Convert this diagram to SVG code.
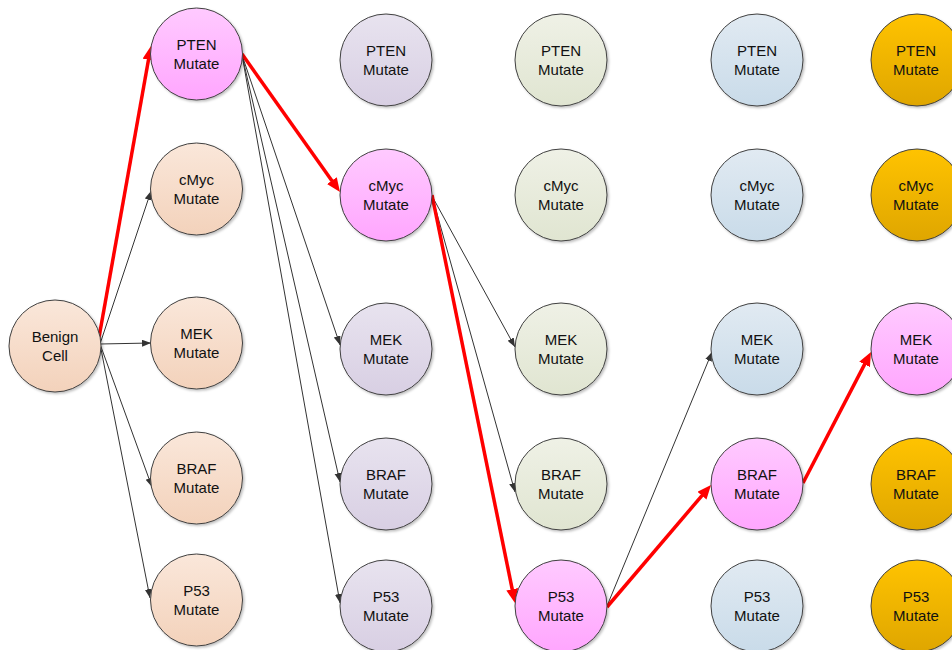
<svg xmlns="http://www.w3.org/2000/svg" width="952" height="650" viewBox="0 0 952 650">
<style>
.n circle{stroke:#404040;stroke-width:1;filter:url(#sh)}
.n text{font-family:"Liberation Sans",Arial,sans-serif;font-size:15px;fill:#111;text-anchor:middle}
.bk{stroke:#333;stroke-width:1;fill:none;marker-end:url(#ab)}
.rd{stroke:#ff0000;stroke-width:3.5;fill:none;marker-end:url(#ar)}
</style>
<defs>
<filter id="sh" x="-20%" y="-20%" width="150%" height="150%"><feDropShadow dx="1.5" dy="1.5" stdDeviation="1.2" flood-color="#000" flood-opacity="0.25"/></filter>
<linearGradient id="gPk" x1="0" y1="0" x2="0" y2="1"><stop offset="0" stop-color="#ffcaff"/><stop offset="1" stop-color="#ffa6fe"/></linearGradient>
<linearGradient id="gPe" x1="0" y1="0" x2="0" y2="1"><stop offset="0" stop-color="#fae7da"/><stop offset="1" stop-color="#f3d2bb"/></linearGradient>
<linearGradient id="gLa" x1="0" y1="0" x2="0" y2="1"><stop offset="0" stop-color="#e8e3ef"/><stop offset="1" stop-color="#d8cfe3"/></linearGradient>
<linearGradient id="gGr" x1="0" y1="0" x2="0" y2="1"><stop offset="0" stop-color="#eff1e6"/><stop offset="1" stop-color="#e0e5d1"/></linearGradient>
<linearGradient id="gBl" x1="0" y1="0" x2="0" y2="1"><stop offset="0" stop-color="#e1eaf2"/><stop offset="1" stop-color="#c9dbe9"/></linearGradient>
<linearGradient id="gOr" x1="0" y1="0" x2="0" y2="1"><stop offset="0" stop-color="#ffc303"/><stop offset="1" stop-color="#dfa600"/></linearGradient>
<marker id="ab" markerUnits="userSpaceOnUse" markerWidth="10" markerHeight="8" refX="9" refY="3.5" orient="auto"><path d="M0,0 L9,3.5 L0,7 z" fill="#333"/></marker>
<marker id="ar" markerUnits="userSpaceOnUse" markerWidth="16" markerHeight="14" refX="4" refY="6" orient="auto"><path d="M0,0 L14,6 L0,12 z" fill="#ff0000"/></marker>
</defs>
<g id="connectors">
<line class="bk" x1="100" y1="344" x2="151" y2="191"/>
<line class="bk" x1="100" y1="344" x2="151" y2="343"/>
<line class="bk" x1="100" y1="344" x2="152" y2="487"/>
<line class="bk" x1="100" y1="344" x2="150" y2="598"/>
<line class="bk" x1="242" y1="55" x2="340" y2="345"/>
<line class="bk" x1="242" y1="55" x2="340" y2="482"/>
<line class="bk" x1="242" y1="55" x2="340" y2="603"/>
<line class="bk" x1="432" y1="196" x2="515" y2="347"/>
<line class="bk" x1="432" y1="196" x2="515" y2="492"/>
<line class="bk" x1="607" y1="606" x2="712" y2="352"/>
<line class="rd" x1="98" y1="343" x2="149.2" y2="55.8"/>
<line class="rd" x1="242" y1="54" x2="334.2" y2="183.9"/>
<line class="rd" x1="432" y1="195" x2="513" y2="593.2"/>
<line class="rd" x1="607" y1="607" x2="704.5" y2="492.6"/>
<line class="rd" x1="803" y1="483" x2="866.4" y2="360.9"/>
</g>
<g id="benign" class="n"><circle cx="55" cy="346" r="46" fill="url(#gPe)"/><text x="55" y="342">Benign</text><text x="55" y="361">Cell</text></g>
<g id="c1-pten" class="n"><circle cx="196.5" cy="54" r="46" fill="url(#gPk)"/><text x="196.5" y="50">PTEN</text><text x="196.5" y="69">Mutate</text></g>
<g id="c1-cmyc" class="n"><circle cx="196.5" cy="189" r="46" fill="url(#gPe)"/><text x="196.5" y="185">cMyc</text><text x="196.5" y="204">Mutate</text></g>
<g id="c1-mek" class="n"><circle cx="196.5" cy="343" r="46" fill="url(#gPe)"/><text x="196.5" y="339">MEK</text><text x="196.5" y="358">Mutate</text></g>
<g id="c1-braf" class="n"><circle cx="196.5" cy="478" r="46" fill="url(#gPe)"/><text x="196.5" y="474">BRAF</text><text x="196.5" y="493">Mutate</text></g>
<g id="c1-p53" class="n"><circle cx="196.5" cy="600" r="46" fill="url(#gPe)"/><text x="196.5" y="596">P53</text><text x="196.5" y="615">Mutate</text></g>
<g id="c2-pten" class="n"><circle cx="386" cy="60" r="46" fill="url(#gLa)"/><text x="386" y="56">PTEN</text><text x="386" y="75">Mutate</text></g>
<g id="c2-cmyc" class="n"><circle cx="386" cy="195" r="46" fill="url(#gPk)"/><text x="386" y="191">cMyc</text><text x="386" y="210">Mutate</text></g>
<g id="c2-mek" class="n"><circle cx="386" cy="349" r="46" fill="url(#gLa)"/><text x="386" y="345">MEK</text><text x="386" y="364">Mutate</text></g>
<g id="c2-braf" class="n"><circle cx="386" cy="484" r="46" fill="url(#gLa)"/><text x="386" y="480">BRAF</text><text x="386" y="499">Mutate</text></g>
<g id="c2-p53" class="n"><circle cx="386" cy="606" r="46" fill="url(#gLa)"/><text x="386" y="602">P53</text><text x="386" y="621">Mutate</text></g>
<g id="c3-pten" class="n"><circle cx="561" cy="60" r="46" fill="url(#gGr)"/><text x="561" y="56">PTEN</text><text x="561" y="75">Mutate</text></g>
<g id="c3-cmyc" class="n"><circle cx="561" cy="195" r="46" fill="url(#gGr)"/><text x="561" y="191">cMyc</text><text x="561" y="210">Mutate</text></g>
<g id="c3-mek" class="n"><circle cx="561" cy="349" r="46" fill="url(#gGr)"/><text x="561" y="345">MEK</text><text x="561" y="364">Mutate</text></g>
<g id="c3-braf" class="n"><circle cx="561" cy="484" r="46" fill="url(#gGr)"/><text x="561" y="480">BRAF</text><text x="561" y="499">Mutate</text></g>
<g id="c3-p53" class="n"><circle cx="561" cy="606" r="46" fill="url(#gPk)"/><text x="561" y="602">P53</text><text x="561" y="621">Mutate</text></g>
<g id="c4-pten" class="n"><circle cx="757" cy="60" r="46" fill="url(#gBl)"/><text x="757" y="56">PTEN</text><text x="757" y="75">Mutate</text></g>
<g id="c4-cmyc" class="n"><circle cx="757" cy="195" r="46" fill="url(#gBl)"/><text x="757" y="191">cMyc</text><text x="757" y="210">Mutate</text></g>
<g id="c4-mek" class="n"><circle cx="757" cy="349" r="46" fill="url(#gBl)"/><text x="757" y="345">MEK</text><text x="757" y="364">Mutate</text></g>
<g id="c4-braf" class="n"><circle cx="757" cy="484" r="46" fill="url(#gPk)"/><text x="757" y="480">BRAF</text><text x="757" y="499">Mutate</text></g>
<g id="c4-p53" class="n"><circle cx="757" cy="606" r="46" fill="url(#gBl)"/><text x="757" y="602">P53</text><text x="757" y="621">Mutate</text></g>
<g id="c5-pten" class="n"><circle cx="917" cy="60" r="46" fill="url(#gOr)"/><text x="916" y="56">PTEN</text><text x="916" y="75">Mutate</text></g>
<g id="c5-cmyc" class="n"><circle cx="917" cy="195" r="46" fill="url(#gOr)"/><text x="916" y="191">cMyc</text><text x="916" y="210">Mutate</text></g>
<g id="c5-mek" class="n"><circle cx="917" cy="349" r="46" fill="url(#gPk)"/><text x="916" y="345">MEK</text><text x="916" y="364">Mutate</text></g>
<g id="c5-braf" class="n"><circle cx="917" cy="484" r="46" fill="url(#gOr)"/><text x="916" y="480">BRAF</text><text x="916" y="499">Mutate</text></g>
<g id="c5-p53" class="n"><circle cx="917" cy="606" r="46" fill="url(#gOr)"/><text x="916" y="602">P53</text><text x="916" y="621">Mutate</text></g>
</svg>
